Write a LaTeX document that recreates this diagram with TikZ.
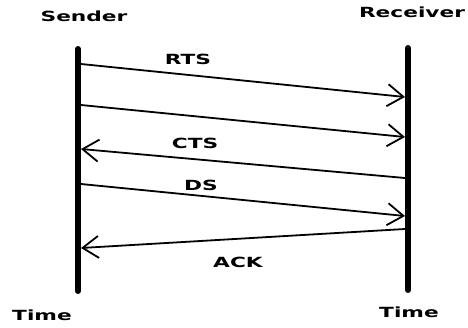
\documentclass[tikz,border=0pt]{standalone}
\usepackage{fontspec}
\usetikzlibrary{arrows.meta}
\newfontfamily\lblfont[FakeStretch=1.55]{DejaVu Sans Bold}
\begin{document}
\begin{tikzpicture}[x=1pt,y=-1pt,
  lifeline/.style={line width=6pt,line cap=round},
  msg/.style={line width=1.8pt,-{Straight Barb[length=16pt,width=22pt,line width=1.8pt]}},
  lbl/.style={font=\lblfont\fontsize{14}{14}\selectfont,inner sep=0pt}]
\useasboundingbox (0,0) rectangle (468,327);

% lifelines
\coordinate (stop) at (78,49);
\coordinate (sbot) at (78,291);
\coordinate (rtop) at (408,48);
\coordinate (rbot) at (408,290);
\draw[lifeline] (stop) -- (sbot);
\draw[lifeline] (rtop) -- (rbot);

% headings
\node[lbl] (sender) at (84,16) {Sender};
\node[lbl] (receiver) at (412,12) {Receiver};
\node[lbl] (stime) at (42,315) {Time};
\node[lbl] (rtime) at (409,312) {Time};

% message end points on the lifelines
\coordinate (a1) at (81,64);   \coordinate (b1) at (405,97);
\coordinate (a2) at (81,105);  \coordinate (b2) at (405,137);
\coordinate (a3) at (81,149);  \coordinate (b3) at (405,178);
\coordinate (a4) at (81,184);  \coordinate (b4) at (405,216);
\coordinate (a5) at (81,248);  \coordinate (b5) at (405,229);

% messages
\draw[msg] (a1) -- (b1);
\draw[msg] (a2) -- (b2);
\draw[msg] (b3) -- (a3);
\draw[msg] (a4) -- (b4);
\draw[msg] (b5) -- (a5);

% message labels
\node[lbl] (rts) at (188,59) {RTS};
\node[lbl] (cts) at (195,143) {CTS};
\node[lbl] (ds) at (201,185) {DS};
\node[lbl] (ack) at (238,262) {ACK};
\end{tikzpicture}
\end{document}
